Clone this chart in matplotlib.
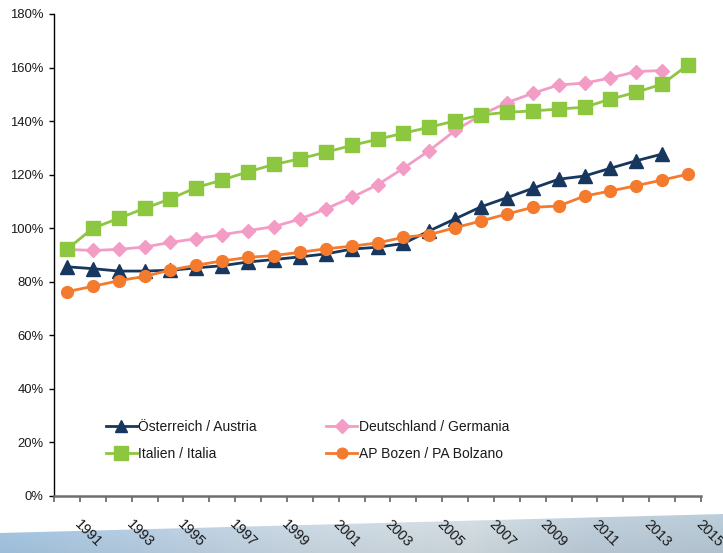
import numpy as np
import matplotlib
matplotlib.use("Agg")
import matplotlib.pyplot as plt
from matplotlib.patches import Polygon

# --- data: index values (%) per year ---------------------------------------
years = list(range(1991, 2016))
tick_years = years[::2]

austria = [85.6, 84.9, 84.0, 84.0, 84.3, 85.2, 86.0, 87.4, 88.3, 89.3, 90.4, 92.2,
           92.9, 94.3, 99.0, 103.5, 108.0, 111.4, 114.9, 118.3, 119.5, 122.4,
           125.2, 127.7]
germany = [92.1, 91.7, 92.1, 93.0, 94.7, 96.1, 97.6, 99.1, 100.6, 103.4, 107.2,
           111.5, 116.2, 122.4, 129.0, 136.5, 142.3, 146.9, 150.4, 153.5, 154.2,
           156.1, 158.5, 158.9]
italy = [92.1, 100.0, 103.7, 107.4, 111.0, 115.2, 118.0, 121.1, 123.8, 125.9,
         128.4, 130.9, 133.2, 135.5, 137.7, 140.1, 142.3, 143.3, 143.8, 144.5,
         145.2, 148.2, 150.8, 153.8, 161.0]
bolzano = [76.3, 78.3, 80.4, 82.0, 84.4, 86.2, 87.8, 89.1, 89.8, 91.0, 92.3, 93.3,
           94.5, 96.6, 97.6, 100.2, 102.7, 105.3, 107.8, 108.3, 112.0, 113.9,
           115.9, 118.0, 120.2]

labels = ["Österreich / Austria", "Deutschland / Germania",
          "Italien / Italia", "AP Bozen / PA Bolzano"]
y_ticks = list(range(0, 181, 20))

plt.rcParams['font.family'] = ['Liberation Sans', 'DejaVu Sans']

W, H, DPI = 723, 553, 100
fig = plt.figure(figsize=(W / DPI, H / DPI), dpi=DPI)
fig.patch.set_facecolor('white')

# --- decorative band along the bottom of the slide --------------------------
bg = fig.add_axes([0, 0, 1, 1], zorder=-5)
bg.set_xlim(0, W)
bg.set_ylim(H, 0)
bg.axis('off')
xs = np.linspace(0, 1, 400)
stops_x = [0.0, 0.25, 0.45, 0.65, 0.82, 1.0]
stops_c = np.array([[0.64, 0.77, 0.88],
                    [0.74, 0.82, 0.89],
                    [0.80, 0.85, 0.89],
                    [0.82, 0.86, 0.88],
                    [0.74, 0.80, 0.85],
                    [0.72, 0.79, 0.84]])
row = np.stack([np.interp(xs, stops_x, stops_c[:, k]) for k in range(3)], axis=-1)
vert = np.linspace(1.04, 0.96, 60)[:, None, None]
grad = np.clip(row[None, :, :] * vert, 0, 1)
im = bg.imshow(grad, extent=[0, W, H, 505], aspect='auto')
band = Polygon([[0, 533], [W, 514], [W, H], [0, H]], closed=True,
               transform=bg.transData, facecolor='none', edgecolor='none')
bg.add_patch(band)
im.set_clip_path(band)

# --- main chart -------------------------------------------------------------
ax = fig.add_axes([54 / W, 1 - 496 / H, 647 / W, 482 / H])
ax.patch.set_alpha(0)

styles = [
    dict(color='#17375e', marker='^', ms=9.5),
    dict(color='#f39dc6', marker='D', ms=7.5),
    dict(color='#8dc63f', marker='s', ms=10.5),
    dict(color='#f47a2e', marker='o', ms=8.5),
]
series = [austria, germany, italy, bolzano]
handles = []
for vals, st, lab in zip(series, styles, labels):
    h, = ax.plot(years[:len(vals)], vals, color=st['color'], lw=2.0,
                 marker=st['marker'], ms=st['ms'], mec=st['color'],
                 mfc=st['color'], label=lab, clip_on=False)
    handles.append(h)

ax.set_xlim(years[0] - 0.5, years[-1] + 0.5)
ax.set_ylim(0, 180)
ax.set_yticks(y_ticks)
ax.set_yticklabels([f"{v}%" for v in y_ticks])

for s in ('top', 'right'):
    ax.spines[s].set_visible(False)
ax.spines['left'].set_color('black')
ax.spines['left'].set_linewidth(1.0)
ax.spines['bottom'].set_color('#6e6e6e')
ax.spines['bottom'].set_linewidth(1.8)

ax.tick_params(axis='y', direction='out', length=3.8, width=1.0, color='black',
               labelsize=9.4, pad=3.5, labelcolor='#1a1a1a')

# category boundaries carry the tick marks
ax.set_xticks([y - 0.5 for y in years] + [years[-1] + 0.5])
ax.tick_params(axis='x', direction='out', length=4, width=1.3, color='#6e6e6e',
               labelbottom=False)

for yv in tick_years:
    ax.annotate(str(yv), xy=(yv, 0), xycoords=('data', 'axes fraction'),
                xytext=(7.0, -19.0), textcoords='offset points',
                rotation=-45, rotation_mode='anchor', ha='left', va='center',
                fontsize=10.4, color='#1a1a1a', annotation_clip=False)

leg = ax.legend([handles[0], handles[2], handles[1], handles[3]],
                [labels[0], labels[2], labels[1], labels[3]],
                ncol=2, loc='upper left', bbox_to_anchor=(0.080, 0.158),
                frameon=False, fontsize=10, handlelength=2.23,
                handletextpad=0.1, columnspacing=5.0, labelspacing=0.95,
                borderpad=0, borderaxespad=0, markerscale=0.9)
for t in leg.get_texts():
    t.set_color('#1a1a1a')

fig.savefig('out.png', dpi=DPI)
